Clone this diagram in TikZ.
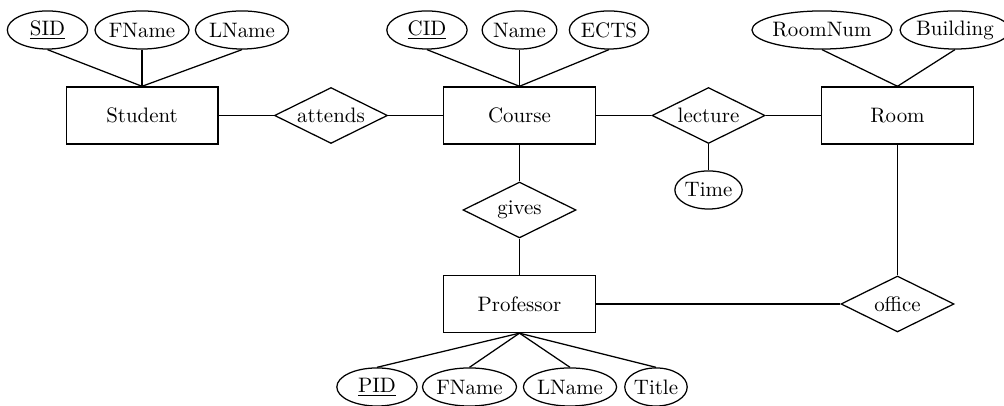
\documentclass[tikz,border=0pt]{standalone}
\usepackage{tikz}
\usetikzlibrary{shapes.geometric}

\begin{document}
\begin{tikzpicture}[semithick,
  entity/.style={draw, rectangle, minimum width=2.55cm, minimum height=0.96cm},
  relation/.style={draw, diamond, aspect=2, inner sep=0pt, minimum width=1.9cm, minimum height=0.94cm},
  attr/.style={draw, ellipse, inner xsep=0pt, inner ysep=1pt, minimum height=0.64cm},
  keyattr/.style={attr, minimum width=1.35cm}]
\useasboundingbox (0,0) rectangle (16.874,-6.807);

\node[entity] (student) at (2.387,-1.941) {Student};
\node[relation] (attends) at (5.563,-1.941) {attends};
\node[entity] (course) at (8.731,-1.941) {Course};
\node[relation] (lecture) at (11.908,-1.941) {lecture};
\node[entity] (room) at (15.084,-1.941) {Room};
\node[attr] (time) at (11.908,-3.193) {Time};
\node[relation] (gives) at (8.731,-3.529) {gives};
\node[entity] (professor) at (8.731,-5.109) {Professor};
\node[relation] (office) at (15.084,-5.109) {office};

\node[keyattr] (sid) at (0.798,-0.504) {\underline{SID}};
\node[attr] (sfname) at (2.387,-0.504) {FName};
\node[attr] (slname) at (4.067,-0.504) {LName};
\node[keyattr] (cid) at (7.176,-0.504) {\underline{CID}};
\node[attr] (cname) at (8.731,-0.504) {Name};
\node[attr] (ects) at (10.235,-0.504) {ECTS};
\node[attr] (roomnum) at (13.815,-0.504) {RoomNum};
\node[attr] (building) at (16.05,-0.504) {Building};
\node[keyattr] (pid) at (6.336,-6.504) {\underline{PID}};
\node[attr] (pfname) at (7.891,-6.504) {FName};
\node[attr] (plname) at (9.580,-6.504) {LName};
\node[attr] (title) at (11.025,-6.504) {Title};

\foreach \a in {sid,sfname,slname} \draw (\a.south) -- (student.north);
\foreach \a in {cid,cname,ects} \draw (\a.south) -- (course.north);
\foreach \a in {roomnum,building} \draw (\a.south) -- (room.north);
\foreach \a in {pid,pfname,plname,title} \draw (\a.north) -- (professor.south);

\draw (student.east) -- (attends.west);
\draw (attends.east) -- (course.west);
\draw (course.east) -- (lecture.west);
\draw (lecture.east) -- (room.west);
\draw (lecture.south) -- (time.north);
\draw (course.south) -- (gives.north);
\draw (gives.south) -- (professor.north);
\draw (professor.east) -- (office.west);
\draw (office.north) -- (room.south);
\end{tikzpicture}
\end{document}
